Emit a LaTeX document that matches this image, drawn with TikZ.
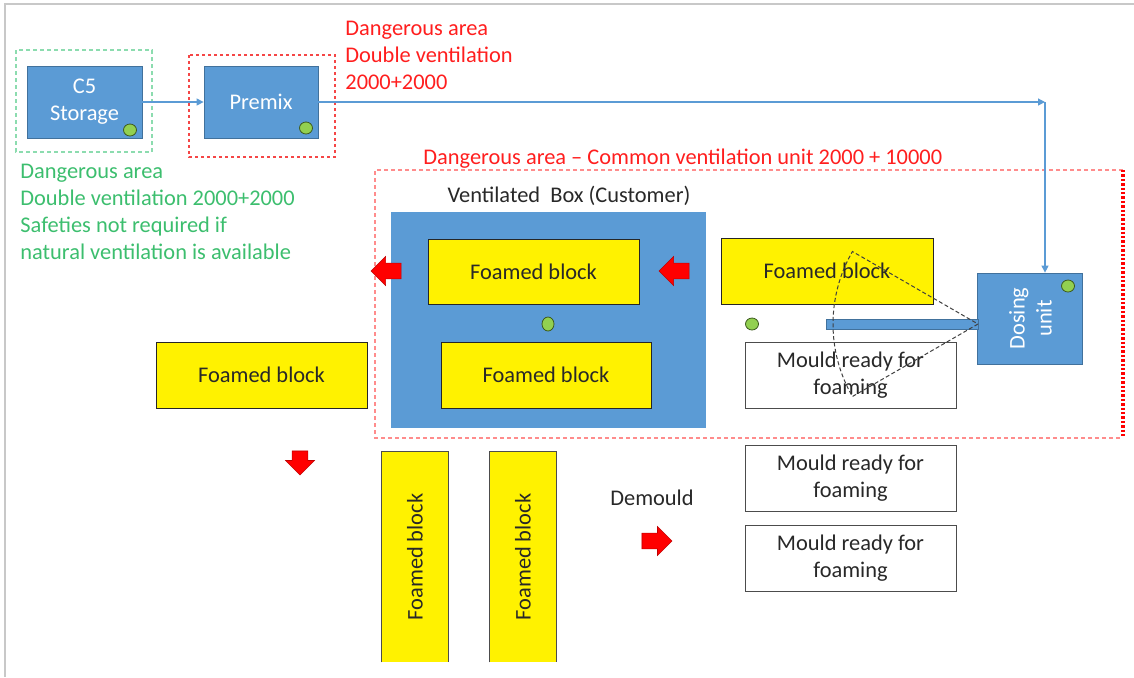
\documentclass[tikz,border=0pt]{standalone}
\usepackage{fontspec}
\setmainfont{Carlito}
\usetikzlibrary{shapes.arrows,shapes.geometric,arrows.meta}
\definecolor{bluebox}{RGB}{91,155,213}
\definecolor{blueborder}{RGB}{65,113,156}
\definecolor{dotgreen}{RGB}{146,208,80}
\definecolor{dotborder}{RGB}{60,90,30}
\definecolor{greentext}{RGB}{60,190,110}
\definecolor{greendash}{RGB}{140,220,175}
\definecolor{redtext}{RGB}{255,30,30}
\definecolor{zonered}{RGB}{245,70,70}
\definecolor{pinkdash}{RGB}{255,140,140}
\definecolor{darktext}{RGB}{40,40,40}
\definecolor{framegray}{RGB}{200,200,200}
\newcommand\myfs{\fontsize{11.2}{13.5}\selectfont}
\tikzset{
  procbox/.style={draw=blueborder, fill=bluebox, text=white, align=center, inner sep=0pt, font=\myfs},
  fblock/.style={draw=black!85, fill=yellow, inner sep=0pt, font=\myfs, text=darktext},
  mould/.style={draw=black!70, fill=white, align=center, inner sep=0pt, font=\myfs, text=darktext},
  gdot/.style={ellipse, draw=dotborder, fill=dotgreen, minimum width=6.5pt, minimum height=6pt, inner sep=0pt, line width=0.4pt},
  redarrow/.style={single arrow, fill=red, draw=red!75!black, line width=0.3pt, inner xsep=0pt, inner ysep=3.8pt, single arrow head extend=3.3pt, minimum height=15pt},
  flow/.style={draw=bluebox, line width=0.6pt, -{Triangle[length=3.5pt,width=3.5pt]}},
  label/.style={inner sep=0pt, align=left, font=\myfs},
}
\begin{document}
\begin{tikzpicture}[x=0.5pt,y=-0.5pt]
\useasboundingbox (0,0) rectangle (1134,677);
% frame
\draw[framegray, line width=0.6pt] (1134,4) -- (5,4) -- (5,677);

% zones
\draw[draw=greendash, dash pattern=on 2pt off 1.5pt, line width=0.6pt] (16,50) rectangle (152,152);
\draw[draw=zonered, dash pattern=on 1.6pt off 1.4pt, line width=0.6pt] (189,55) rectangle (335,157);
\draw[draw=pinkdash, dash pattern=on 2pt off 1.5pt, line width=0.6pt] (1123,170) -- (375,170) -- (375,438) -- (1123,438);
\draw[draw=red, dash pattern=on 1.2pt off 1pt, line width=1.6pt] (1123,170) -- (1123,438);

% process boxes
\node[procbox, minimum width=57.5pt, minimum height=36pt] (c5) at (84.5,102) {C5\\Storage};
\node[procbox, minimum width=57pt, minimum height=36pt] (premix) at (261,102) {Premix};
\node[gdot] (d1) at (130,130) {};
\node[gdot] (d2) at (306,128) {};

% labels
\node[label, text=redtext, anchor=base west] (lred) at (345,89) {Dangerous area\\Double ventilation\\2000+2000};
\node[label, text=greentext, anchor=base west] (lgreen) at (20,259) {Dangerous area\\Double ventilation 2000+2000\\Safeties not required if\\natural ventilation is available};
\node[label, text=redtext, anchor=base west] (lbig) at (423,164) {Dangerous area -- Common ventilation unit 2000 + 10000};
\node[label, text=darktext, anchor=base] (lvent) at (569,202) {Ventilated\ \ Box (Customer)};

% ventilated box
\node[draw=bluebox, fill=bluebox, minimum width=157pt, minimum height=107.5pt, inner sep=0pt] (vent) at (548,319.5) {};
\node[fblock, minimum width=105.5pt, minimum height=32.5pt] (fb1) at (533.5,271.5) {Foamed block};
\node[fblock, minimum width=105pt, minimum height=33pt] (fb2) at (546,375) {Foamed block};
\node[gdot, minimum width=6pt, minimum height=7pt] (d3) at (548,324) {};
\node[redarrow, shape border rotate=180] (a1) at (390,271) {};
\node[redarrow, shape border rotate=180] (a2) at (678,271) {};

% foaming station
\node[fblock, minimum width=106pt, minimum height=33pt] (fb3) at (827,271) {Foamed block};
\node[gdot] (d4) at (752,324) {};
\node[mould, minimum width=105.5pt, minimum height=33pt] (m1) at (850.5,375) {Mould ready for\\foaming};
\node[procbox, minimum width=52.5pt, minimum height=45.5pt] (dosing) at (1029.5,318.5) {};
\node[procbox, rotate=90, draw=none, fill=none] (dosingtxt) at (1030.5,318.5) {Dosing\\unit};
\node[gdot] (d5) at (1068,286) {};
\node[draw=blueborder, fill=bluebox, minimum width=76pt, minimum height=5pt, inner sep=0pt, line width=0.3pt] (bar) at (902,324) {};
\coordinate (apex) at (978,324);
\draw[black!75, dash pattern=on 2pt off 1.2pt, line width=0.5pt] (apex) -- ++(210:72.5pt) arc[start angle=210, end angle=150, radius=72.5pt] -- cycle;

% flows
\coordinate (corner) at (1045,102);
\draw[flow] (c5) -- (premix);
\draw[flow] (premix) -- (corner);
\draw[flow] (corner) -- (corner |- dosing.north);

% outside
\node[fblock, minimum width=105.5pt, minimum height=33pt] (fb4) at (261.5,375) {Foamed block};
\node[redarrow, shape border rotate=270, inner xsep=3.8pt, inner ysep=0pt, minimum height=12pt] (a3) at (300,459) {};
\node[fblock, draw=none, rotate=90, minimum width=105pt, minimum height=33pt] (v1) at (415,557) {Foamed block};
\node[fblock, draw=none, rotate=90, minimum width=105pt, minimum height=33pt] (v2) at (523,557) {Foamed block};
\draw[black!70, line width=0.4pt] (v1.north west) -- (v1.north east) -- (v1.south east) -- (v1.south west);
\draw[black!70, line width=0.4pt] (v2.north west) -- (v2.north east) -- (v2.south east) -- (v2.south west);
\node[label, text=darktext, anchor=base] (ldem) at (652,505) {Demould};
\node[redarrow] (a4) at (653,541) {};
\node[mould, minimum width=105.5pt, minimum height=33pt] (m2) at (850.5,478) {Mould ready for\\foaming};
\node[mould, minimum width=105.5pt, minimum height=33pt] (m3) at (850.5,558) {Mould ready for\\foaming};
\end{tikzpicture}
\end{document}
